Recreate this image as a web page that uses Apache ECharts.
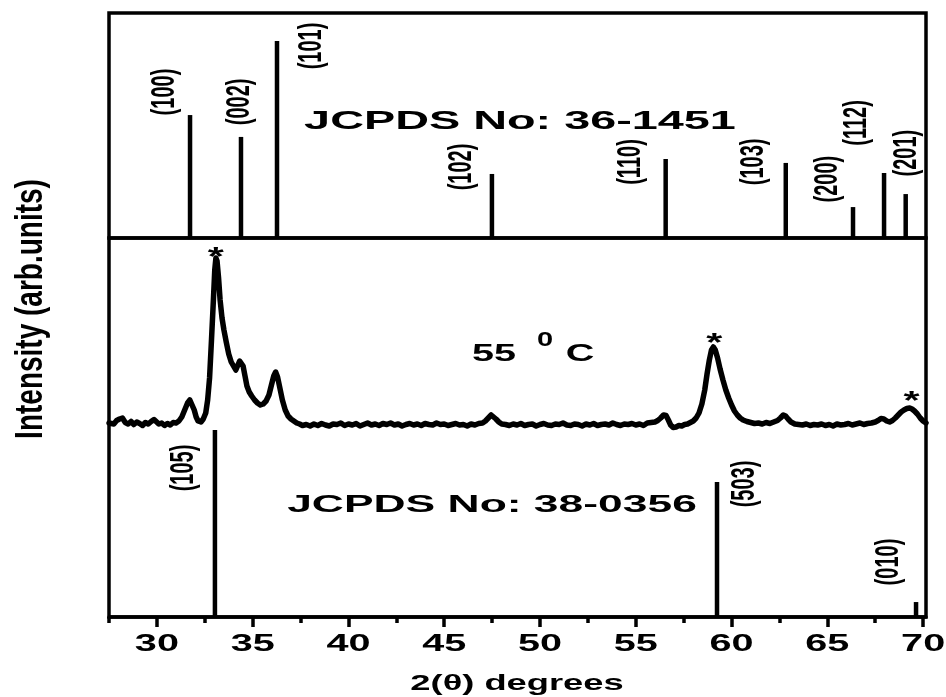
<!DOCTYPE html>
<html><head><meta charset="utf-8">
<script src="https://cdn.jsdelivr.net/npm/echarts@6/dist/echarts.min.js"></script>
<style>html,body{margin:0;padding:0;background:#fff}#c{width:946px;height:697px}</style>
</head><body><div id="c"></div>
<script>
// ---------- data ----------
const xTicks = [30, 35, 40, 45, 50, 55, 60, 65, 70];
const xMinorTicks = [27.5, 32.5, 37.5, 42.5, 47.5, 52.5, 57.5, 62.5, 67.5];

// JCPDS 36-1451 (top panel)
const znoTheta = [31.73, 34.39, 36.27, 47.49, 56.56, 62.83, 66.34, 67.96, 69.09];
const znoIntensity = [62.4, 51.3, 100, 32.5, 40.1, 38.1, 15.7, 33.0, 22.3];
const znoHkl = ['(100)', '(002)', '(101)', '(102)', '(110)', '(103)', '(200)', '(112)', '(201)'];

// JCPDS 38-0356 (bottom panel)
const sbTheta = [33.03, 59.24, 69.63];
const sbIntensity = [100, 72.2, 8.0];
const sbHkl = ['(105)', '(503)', '(010)'];

// peaks marked with *
const starTheta = [33.08, 59.1, 69.4];
const starIntensity = [1780, 920, 340];

// measured pattern, 55 °C  [2theta, intensity]
const xrdPattern = [
[27.5,70],[27.6,85],[27.75,60],[27.9,95],[28.05,110],[28.2,120],[28.35,75],[28.5,60],[28.65,85],[28.8,55],
[28.95,80],[29.1,65],[29.25,45],[29.4,75],[29.55,60],[29.7,85],[29.85,105],[29.95,90],[30.1,60],[30.25,70],
[30.4,45],[30.55,65],[30.7,50],[30.85,75],[31.0,70],[31.15,90],[31.3,130],[31.45,200],[31.6,270],[31.72,300],
[31.82,280],[31.95,200],[32.05,130],[32.15,90],[32.3,80],[32.42,110],[32.55,170],[32.65,300],[32.75,520],[32.85,900],
[32.95,1300],[33.02,1600],[33.08,1720],[33.14,1690],[33.22,1520],[33.3,1300],[33.4,1120],[33.5,1000],[33.62,880],[33.75,760],
[33.88,680],[34.0,640],[34.12,600],[34.22,620],[34.32,690],[34.42,710],[34.5,640],[34.6,540],[34.7,440],[34.82,380],
[34.95,340],[35.1,300],[35.25,270],[35.4,250],[35.55,260],[35.7,290],[35.85,350],[35.98,450],[36.1,540],[36.2,580],
[36.3,530],[36.42,420],[36.55,300],[36.7,200],[36.85,140],[37.0,110],[37.15,90],[37.3,70],[37.45,60],[37.6,45],
[37.8,55],[38.0,40],[38.2,60],[38.4,45],[38.6,65],[38.8,50],[39.0,40],[39.2,60],[39.4,55],[39.6,70],
[39.8,45],[40.0,60],[40.2,50],[40.4,65],[40.6,40],[40.8,55],[41.0,70],[41.2,50],[41.4,60],[41.6,45],
[41.8,65],[42.0,55],[42.2,70],[42.4,50],[42.6,60],[42.8,40],[43.0,55],[43.2,65],[43.4,50],[43.6,60],
[43.8,45],[44.0,65],[44.2,55],[44.4,50],[44.6,70],[44.8,55],[45.0,60],[45.2,45],[45.4,55],[45.6,65],
[45.8,50],[46.0,55],[46.2,40],[46.4,60],[46.6,50],[46.8,65],[47.0,70],[47.15,90],[47.3,120],[47.45,150],
[47.55,145],[47.7,110],[47.85,80],[48.0,60],[48.2,55],[48.4,45],[48.6,60],[48.8,50],[49.0,65],[49.2,45],
[49.4,55],[49.6,60],[49.8,40],[50.0,55],[50.2,65],[50.4,50],[50.6,45],[50.8,60],[51.0,55],[51.2,70],
[51.4,50],[51.6,45],[51.8,60],[52.0,55],[52.2,40],[52.4,60],[52.6,50],[52.8,65],[53.0,45],[53.2,55],
[53.4,60],[53.6,50],[53.8,70],[54.0,55],[54.2,45],[54.4,60],[54.6,55],[54.8,65],[55.0,50],[55.2,60],
[55.4,45],[55.6,70],[55.8,75],[56.0,80],[56.15,95],[56.3,120],[56.45,150],[56.58,145],[56.7,100],[56.82,50],
[56.95,25],[57.1,30],[57.25,45],[57.4,40],[57.55,55],[57.7,60],[57.85,75],[58.0,90],[58.15,120],[58.3,170],
[58.45,260],[58.6,400],[58.72,560],[58.84,700],[58.95,800],[59.05,830],[59.15,800],[59.27,720],[59.4,610],[59.55,500],
[59.7,400],[59.85,320],[60.0,250],[60.15,190],[60.3,150],[60.45,120],[60.6,100],[60.8,85],[61.0,75],[61.2,65],
[61.4,70],[61.6,60],[61.8,75],[62.0,65],[62.2,80],[62.4,95],[62.55,120],[62.7,150],[62.82,140],[62.95,110],
[63.1,80],[63.3,60],[63.5,55],[63.7,50],[63.9,60],[64.1,45],[64.3,55],[64.5,50],[64.7,60],[64.9,45],
[65.1,55],[65.3,40],[65.5,60],[65.7,50],[65.9,55],[66.1,65],[66.3,50],[66.5,60],[66.7,70],[66.9,55],
[67.1,65],[67.3,70],[67.5,80],[67.65,95],[67.8,115],[67.95,110],[68.1,90],[68.25,80],[68.4,95],[68.55,120],
[68.7,150],[68.85,180],[69.0,200],[69.15,215],[69.3,220],[69.42,210],[69.55,190],[69.7,160],[69.85,120],[70.0,90],
[70.15,70]
];

// ---------- styling / layout ----------
const FONT = '"Liberation Sans", Arial, sans-serif';
const STRETCH = 1.65;
const topLabelOffset = [[-25,-23],[-1,-35],[35,5],[-30,-7],[-35,3],[-32,-1],[-25,-28],[-27,-50],[1,-41]];
const bottomLabelOffset = [[-31,38],[28,2],[-27,-40]];

function stickRenderer(hkl, offsets) {
  return function (params, api) {
    const x = api.value(0), h = api.value(1);
    const base = api.coord([x, 0]);
    const top = api.coord([x, h]);
    const off = offsets[params.dataIndex];
    return {
      type: 'group',
      children: [
        { type: 'line', shape: { x1: base[0], y1: base[1], x2: top[0], y2: top[1] },
          style: { stroke: '#000', lineWidth: 4.5, lineCap: 'butt' } },
        { type: 'text', x: top[0] + off[0], y: top[1] + off[1], rotation: Math.PI / 2, scaleY: STRETCH,
          style: { text: hkl[params.dataIndex], font: 'bold 20px ' + FONT, fill: '#000', align: 'center', verticalAlign: 'middle' } }
      ]
    };
  };
}

const chart = echarts.init(document.getElementById('c'), null, { renderer: 'canvas' });
const L = 109, W = 817;
const xc = { type: 'value', min: 27.5, max: 70.15 };

chart.setOption({
  animation: false,
  backgroundColor: '#fff',
  grid: [
    { left: L, top: 13, width: W, height: 225, show: true, borderColor: '#000', borderWidth: 3.5, backgroundColor: 'transparent' },
    { left: L, top: 238, width: W, height: 192 },
    { left: L, top: 430, width: W, height: 187 },
    { left: L, top: 238, width: W, height: 379, show: true, borderColor: '#000', borderWidth: 3.5, backgroundColor: 'transparent' }
  ],
  xAxis: [
    Object.assign({}, xc, { gridIndex: 0, show: false }),
    Object.assign({}, xc, { gridIndex: 1, show: false }),
    Object.assign({}, xc, { gridIndex: 2, splitLine: { show: false },
      axisLine: { show: true, onZero: false, lineStyle: { color: '#000', width: 3.5 } },
      axisTick: { show: true, customValues: xTicks, length: 10, lineStyle: { color: '#000', width: 3.5 } },
      axisLabel: { show: false } }),
    Object.assign({}, xc, { gridIndex: 3, splitLine: { show: false },
      axisLine: { show: false },
      axisTick: { show: true, customValues: xMinorTicks, length: 6, lineStyle: { color: '#000', width: 3.5 } },
      axisLabel: { show: false } })
  ],
  yAxis: [
    { type: 'value', gridIndex: 0, min: 0, max: 114.2, show: false },
    { type: 'value', gridIndex: 1, min: 0, max: 1920, show: false },
    { type: 'value', gridIndex: 2, min: 0, max: 100, show: false },
    { type: 'value', gridIndex: 3, min: 0, max: 1, show: false }
  ],
  series: [
    { type: 'custom', name: 'JCPDS 36-1451', xAxisIndex: 0, yAxisIndex: 0, clip: false,
      data: znoTheta.map((t, i) => [t, znoIntensity[i]]), encode: { x: 0, y: 1 },
      renderItem: stickRenderer(znoHkl, topLabelOffset) },
    { type: 'line', name: '55 °C', xAxisIndex: 1, yAxisIndex: 1, data: xrdPattern,
      showSymbol: false, symbol: 'none', smooth: false,
      lineStyle: { color: '#000', width: 5.5, join: 'round', cap: 'round' } },
    { type: 'custom', name: 'stars', xAxisIndex: 1, yAxisIndex: 1, clip: false,
      data: starTheta.map((t, i) => [t, starIntensity[i]]), encode: { x: 0, y: 1 },
      renderItem: function (params, api) {
        const p = api.coord([api.value(0), api.value(1)]);
        return { type: 'text', x: p[0], y: p[1] + 6, scaleX: STRETCH,
          style: { text: '*', font: 'bold 25px ' + FONT, fill: '#000', align: 'center', verticalAlign: 'middle' } };
      } },
    { type: 'custom', name: 'JCPDS 38-0356', xAxisIndex: 2, yAxisIndex: 2, clip: false,
      data: sbTheta.map((t, i) => [t, sbIntensity[i]]), encode: { x: 0, y: 1 },
      renderItem: stickRenderer(sbHkl, bottomLabelOffset) },
    { type: 'custom', name: 'tick labels', xAxisIndex: 2, yAxisIndex: 2, clip: false, silent: true,
      data: xTicks.map(v => [v, 0]), encode: { x: 0, y: 1 },
      renderItem: function (params, api) {
        const p = api.coord([api.value(0), 0]);
        return { type: 'text', x: p[0], y: p[1] + 27, scaleX: STRETCH,
          style: { text: String(xTicks[params.dataIndex]), font: 'bold 24px ' + FONT, fill: '#000', align: 'center', verticalAlign: 'middle' } };
      } }
  ],
  graphic: [
    { type: 'text', x: 520, y: 122, scaleX: 1.8, style: { text: 'JCPDS No: 36-1451', font: 'bold 26px ' + FONT, fill: '#000', align: 'center', verticalAlign: 'middle' } },
    { type: 'text', x: 492, y: 505, scaleX: 1.85, style: { text: 'JCPDS No: 38-0356', font: 'bold 24px ' + FONT, fill: '#000', align: 'center', verticalAlign: 'middle' } },
    { type: 'text', x: 494, y: 354, scaleX: STRETCH, style: { text: '55', font: 'bold 24px ' + FONT, fill: '#000', align: 'center', verticalAlign: 'middle' } },
    { type: 'text', x: 545, y: 340, scaleX: 1.45, style: { text: '0', font: 'bold 20px ' + FONT, fill: '#000', align: 'center', verticalAlign: 'middle' } },
    { type: 'text', x: 580, y: 354, scaleX: STRETCH, style: { text: 'C', font: 'bold 24px ' + FONT, fill: '#000', align: 'center', verticalAlign: 'middle' } },
    { type: 'text', x: 517, y: 684, scaleX: STRETCH, style: { text: '2(\u03B8) degrees', font: 'bold 22px ' + FONT, fill: '#000', align: 'center', verticalAlign: 'middle' } },
    { type: 'text', x: 31, y: 309, rotation: Math.PI / 2, scaleY: 1.4, style: { text: 'Intensity (arb.units)', font: 'bold 28px ' + FONT, fill: '#000', align: 'center', verticalAlign: 'middle' } }
  ]
});
</script>
</body></html>
